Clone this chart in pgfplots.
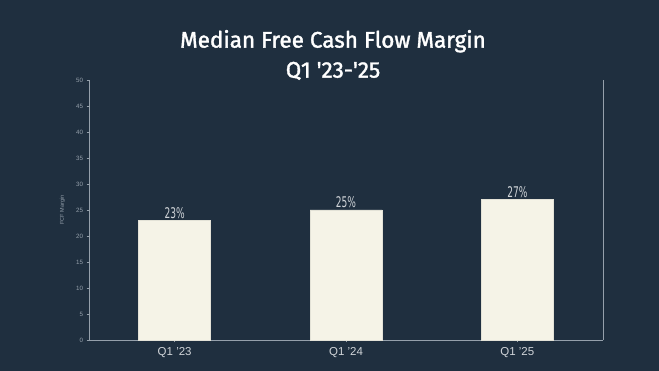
\documentclass[border=0pt]{standalone}
\usepackage{pgfplots}
\pgfplotsset{compat=1.18}
\usepackage{fontspec}
\setmainfont{Liberation Sans}
\newfontfamily\titlefont[RawFeature={embolden=1.6}]{Fira Sans}
\newfontfamily\barfont{DejaVu Sans Condensed}
\definecolor{bg}{HTML}{1F2F3F}
\definecolor{barc}{HTML}{F5F3E7}
\definecolor{axc}{HTML}{95A0AB}
\definecolor{tickc}{HTML}{D0D4D8}
\begin{document}
\begin{tikzpicture}[x=1pt,y=1pt]
\fill[bg] (0,0) rectangle (659,371);
\node[text=white,font=\titlefont\fontsize{22.5}{30}\selectfont,align=center] at (333,316) {Median Free Cash Flow Margin\\Q1 '23-'25};
\begin{axis}[
  at={(89pt,31pt)}, anchor=south west,
  width=514pt, height=260pt, scale only axis,
  xmin=-0.5, xmax=2.5, ymin=0, ymax=50,
  axis x line*=bottom, axis y line*=left,
  axis line style={axc, line width=0.6pt},
  ytick={0,5,...,50},
  xtick=data, xticklabels={Q1 '23,Q1 '24,Q1 '25},
  x tick label style={font=\fontsize{11.5}{13}\selectfont, text=tickc, yshift=-1pt},
  y tick label style={font=\fontsize{6.2}{7}\selectfont, text=axc},
  /pgf/number format/assume math mode=true,
  tick style={axc, line width=0.5pt},
  major tick length=2.5pt,
  tick align=outside,
  ylabel={FCF Margin},
  ylabel style={font=\fontsize{5.5}{6}\selectfont, text=axc, at={(axis description cs:-0.04,0.5)}},
  ybar, bar width=72pt,
  nodes near coords={\scalebox{0.72}[1.05]{\pgfmathprintnumber{\pgfplotspointmeta}\%}},
  nodes near coords style={font=\barfont\fontsize{14}{15}\selectfont, text=tickc, yshift=-1.5pt},
  clip=false,
]
\addplot[fill=barc, draw=barc!85!gray, line width=0.4pt] coordinates {(0,23) (1,25) (2,27)};
\end{axis}
\draw[axc, line width=0.6pt] (603,31) -- (603,291);
\end{tikzpicture}
\end{document}
